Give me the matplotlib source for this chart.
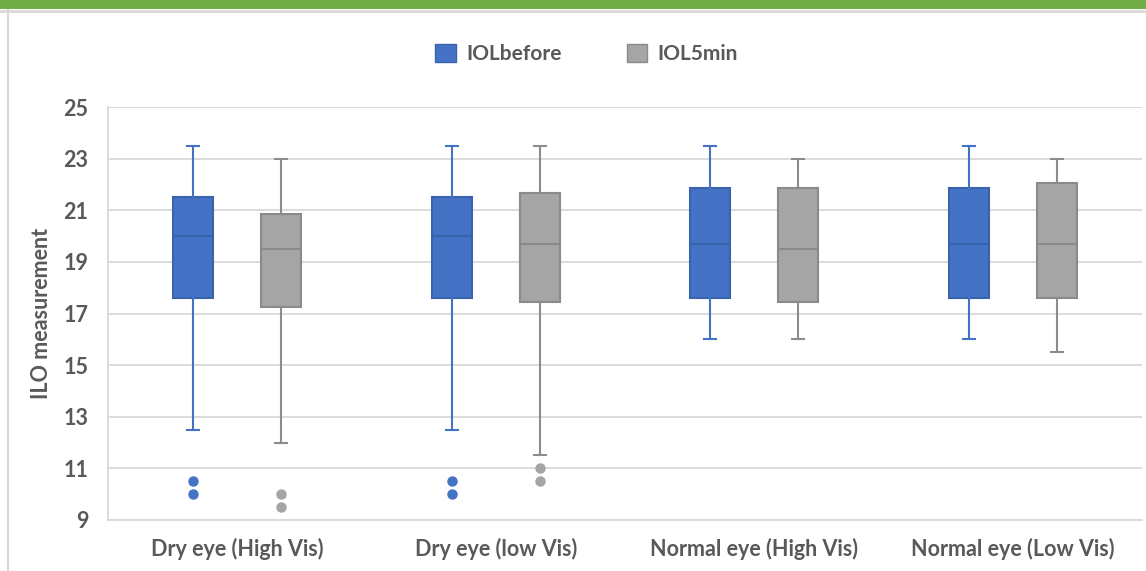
import matplotlib
matplotlib.use("Agg")
import matplotlib.pyplot as plt
from matplotlib.patches import Patch, Rectangle
from matplotlib.lines import Line2D

plt.rcParams['font.family'] = ['Lato', 'DejaVu Sans']
plt.rcParams['font.weight'] = 'bold'

# data
groups = ['Dry eye (High Vis)', 'Dry eye (low Vis)', 'Normal eye (High Vis)', 'Normal eye (Low Vis)']
series = ['IOLbefore', 'IOL5min']

before_low = [12.5, 12.5, 16.0, 16.0]
before_q1 = [17.6, 17.6, 17.6, 17.6]
before_med = [20.0, 20.0, 19.7, 19.7]
before_q3 = [21.5, 21.5, 21.85, 21.85]
before_high = [23.5, 23.5, 23.5, 23.5]
before_out = [[10.5, 10.0], [10.5, 10.0], [], []]

after_low = [12.0, 11.5, 16.0, 15.5]
after_q1 = [17.25, 17.45, 17.45, 17.6]
after_med = [19.5, 19.7, 19.5, 19.7]
after_q3 = [20.85, 21.65, 21.85, 22.05]
after_high = [23.0, 23.5, 23.0, 23.0]
after_out = [[10.0, 9.5], [11.0, 10.5], [], []]

blue = '#4472C4'
blue_edge = '#3A63AD'
grey = '#A5A5A5'
grey_edge = '#8A8A8A'
txt = '#595959'


def make_stats(low, q1, med, q3, high, out):
    stats = []
    for i in range(len(low)):
        stats.append({'whislo': low[i], 'q1': q1[i], 'med': med[i], 'q3': q3[i],
                      'whishi': high[i], 'fliers': out[i]})
    return stats


fig = plt.figure(figsize=(11.46, 5.71), dpi=100)
ax = fig.add_axes([108 / 1146, 1 - 520 / 571, 1034 / 1146, 413 / 571])

centers = [i + 0.5 for i in range(len(groups))]
off = 0.17
w = 0.155

for stats, shift, fc, ec, wc in [
        (make_stats(before_low, before_q1, before_med, before_q3, before_high, before_out), -off, blue, blue_edge, blue),
        (make_stats(after_low, after_q1, after_med, after_q3, after_high, after_out), off, grey, grey_edge, '#8C8C8C')]:
    ax.bxp(stats, positions=[c + shift for c in centers], widths=w, patch_artist=True,
           capwidths=0.045, showfliers=True,
           boxprops=dict(facecolor=fc, edgecolor=ec, linewidth=1.5),
           medianprops=dict(color=ec, linewidth=1.5),
           whiskerprops=dict(color=wc, linewidth=1.5),
           capprops=dict(color=wc, linewidth=1.5),
           flierprops=dict(marker='o', markerfacecolor=fc, markeredgecolor=fc, markersize=6.5))

ax.set_xlim(0, 4)
ax.set_ylim(9, 25)
ax.set_yticks(range(9, 26, 2))
ax.set_xticks(centers)
ax.set_xticklabels(groups)
ax.yaxis.grid(True, color='#D9D9D9', linewidth=1.3)
ax.set_axisbelow(True)
for s in ['top', 'right']:
    ax.spines[s].set_visible(False)
ax.spines['left'].set_color('#D9D9D9')
ax.spines['bottom'].set_color('#D9D9D9')
ax.spines['left'].set_linewidth(1.3)
ax.spines['bottom'].set_linewidth(1.3)
ax.tick_params(axis='both', length=0, colors=txt, labelsize=15.5)
ax.tick_params(axis='y', pad=14)
ax.tick_params(axis='x', pad=13)
ax.set_ylabel('ILO measurement', color=txt, fontsize=15.5, fontweight='bold', labelpad=8)

handles = [Patch(facecolor=blue, edgecolor=blue_edge), Patch(facecolor=grey, edgecolor=grey_edge)]
fig.legend(handles, series, loc='center', bbox_to_anchor=(0.512, 1 - 54 / 571), ncol=2,
           frameon=False, fontsize=15, labelcolor=txt, handlelength=1.0, handleheight=1.0,
           columnspacing=3.1, handletextpad=0.5)

# frame decorations: green band on top and thin grey borders
fig.patches.append(Rectangle((0, 1 - 9 / 571), 1, 9 / 571, transform=fig.transFigure,
                             facecolor='#70AD47', edgecolor='none'))
fig.add_artist(Line2D([0, 1], [1 - 10.5 / 571, 1 - 10.5 / 571], transform=fig.transFigure,
                      color='#D9D9D9', linewidth=2))
fig.add_artist(Line2D([8 / 1146, 8 / 1146], [0, 1 - 10 / 571], transform=fig.transFigure,
                      color='#D9D9D9', linewidth=1.5))

fig.savefig('out.png', dpi=100)
